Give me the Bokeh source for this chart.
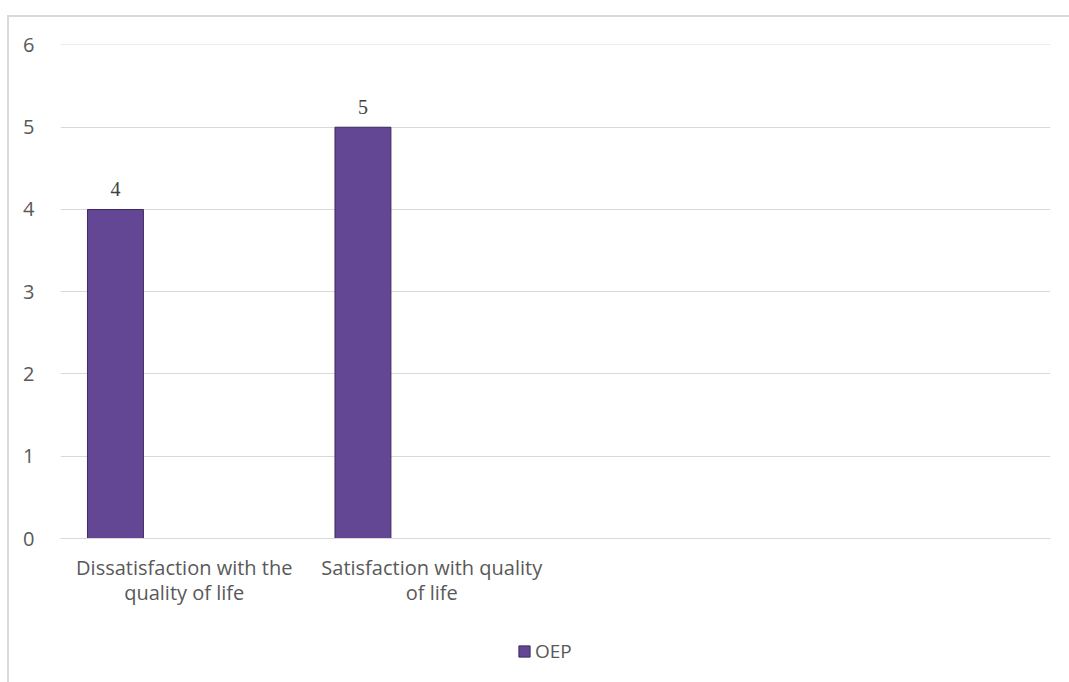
from bokeh.plotting import figure
from bokeh.models import ColumnDataSource, LabelSet, Legend, LegendItem, FixedTicker, Range1d
from bokeh.layouts import column
from bokeh.embed import file_html
from bokeh.resources import INLINE

# Data
categories = ["Dissatisfaction with the\nquality of life", "Satisfaction with quality\nof life", "", " "]
series_name = "OEP"
oep_values = [4, 5]
y_ticks = [0, 1, 2, 3, 4, 5, 6]

FONT = "Open Sans"
TEXT_COLOR = "#595959"
GRID_COLOR = "#d9d9d9"
FONT_SIZE = "20px"
BAR_FILL = "#634794"
BAR_LINE = "#3e2a60"

n_cat = len(categories)
cat_centers = [i + 0.5 for i in range(n_cat)]
bar_offset = -0.278
bar_width = 0.226

src = ColumnDataSource(dict(
    x=[cat_centers[i] + bar_offset for i in range(len(oep_values))],
    top=oep_values,
    label=[str(v) for v in oep_values],
))

# Main chart
p = figure(
    width=1060, height=603,
    x_range=Range1d(0, n_cat), y_range=Range1d(0, 6.006),
    output_backend="svg", toolbar_location=None,
    min_border_left=51, min_border_right=19, min_border_top=27, min_border_bottom=82,
)
p.outline_line_color = None
p.background_fill_color = "white"
p.border_fill_color = "white"

bars = p.vbar(x="x", top="top", bottom=0, width=bar_width, source=src,
              fill_color=BAR_FILL, line_color=BAR_LINE, line_width=1)

labels = LabelSet(x="x", y="top", text="label", source=src, y_offset=13,
                  text_align="center", text_baseline="bottom",
                  text_font=FONT, text_font_size=FONT_SIZE, text_color="#404040")
p.add_layout(labels)

p.xaxis.ticker = FixedTicker(ticks=cat_centers)
p.xaxis.major_label_overrides = {c: lab for c, lab in zip(cat_centers, categories)}
p.xaxis.major_tick_line_color = None
p.xaxis.minor_tick_line_color = None
p.xaxis.axis_line_color = GRID_COLOR
p.xaxis.axis_line_width = 1
p.xaxis.major_label_text_font = FONT
p.xaxis.major_label_text_font_size = FONT_SIZE
p.xaxis.major_label_text_color = TEXT_COLOR
p.xaxis.major_label_text_line_height = 0.95
p.xaxis.major_label_standoff = 9

p.yaxis.ticker = FixedTicker(ticks=y_ticks)
p.yaxis.major_tick_line_color = None
p.yaxis.minor_tick_line_color = None
p.yaxis.axis_line_color = None
p.yaxis.major_label_text_font = FONT
p.yaxis.major_label_text_font_size = FONT_SIZE
p.yaxis.major_label_text_color = TEXT_COLOR
p.yaxis.major_label_standoff = 20

p.xgrid.grid_line_color = None
p.ygrid.ticker = FixedTicker(ticks=y_ticks)
p.ygrid.grid_line_color = GRID_COLOR
p.ygrid.grid_line_width = 1

# Series key strip under the chart
key = figure(
    width=1060, height=62,
    x_range=Range1d(0, n_cat), y_range=Range1d(100, 101),
    output_backend="svg", toolbar_location=None,
    min_border_left=0, min_border_right=0, min_border_top=0, min_border_bottom=0,
)
key.axis.visible = False
key.grid.visible = False
key.outline_line_color = None
key_bars = key.vbar(x="x", top="top", bottom=0, width=bar_width, source=src,
                    fill_color=BAR_FILL, line_color=BAR_LINE, line_width=1)
legend = Legend(items=[LegendItem(label=series_name, renderers=[key_bars])],
                location=(457, 18), orientation="horizontal",
                label_text_font=FONT, label_text_font_size="19px",
                label_text_color=TEXT_COLOR, glyph_width=14, glyph_height=14,
                label_standoff=4, padding=2, spacing=0, margin=0,
                border_line_color=None, background_fill_alpha=0)
key.add_layout(legend, "center")

layout = column(p, key, spacing=0, styles={
    "margin-left": "7px", "margin-top": "15px",
    "border-left": "2px solid #d9d9d9", "border-top": "2px solid #d9d9d9",
})

open("out.html", "w").write(file_html(layout, INLINE))
